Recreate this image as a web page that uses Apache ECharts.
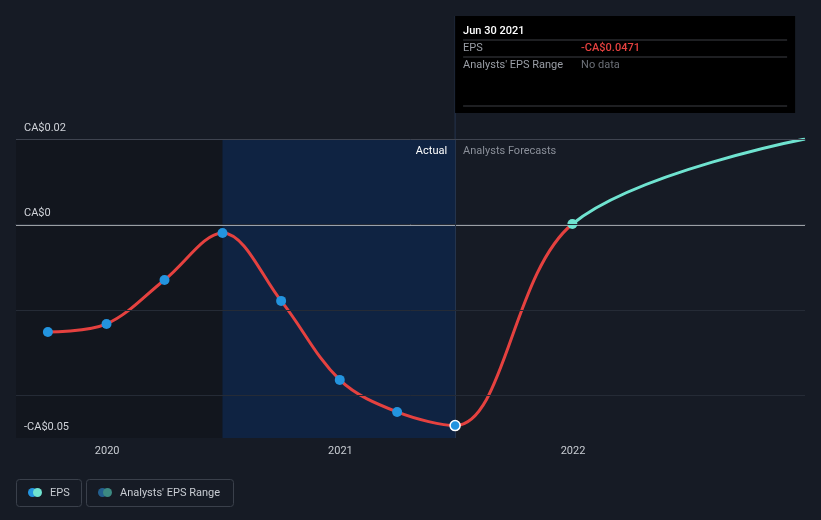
<!DOCTYPE html>
<html>
<head>
<meta charset="utf-8">
<script src="https://cdn.jsdelivr.net/npm/echarts@6/dist/echarts.min.js"></script>
<style>
html,body{margin:0;padding:0;background:#161b25;}
#c{width:821px;height:520px;}
#err{position:absolute;left:0;top:0;color:#ff0;font:10px monospace;white-space:pre;}
</style>
</head>
<body>
<div id="c"></div>
<div id="err"></div>
<script>
// ---- data ----
const actualDates = ['2019-09-30','2019-12-31','2020-03-31','2020-06-30','2020-09-30','2020-12-31','2021-03-31','2021-06-30'];
const actualEps = [-0.0252, -0.0233, -0.0130, -0.0020, -0.0179, -0.0364, -0.0439, -0.0471];
const forecastDates = ['2021-12-31','2022-12-31'];
const forecastEps = [0.0001, 0.0200];
const yLabelValues = [-0.05, 0, 0.02];
const yLabelTexts = ['-CA$0.05', 'CA$0', 'CA$0.02'];
const tooltipDate = 'Jun 30 2021';
const tooltipEps = '-CA$0.0471';
const xStart = '2019-08-11';
const xEnd = '2022-12-31';

const FONT = 'Roboto, "Noto Sans", sans-serif';
const RED = '#e5413f';
const TEAL = '#6fe3d0';
const BLUE = '#2394df';
const YEAR = 365 * 24 * 3600 * 1000;

function ts(s) { const p = s.split('-').map(Number); return new Date(p[0], p[1] - 1, p[2]).getTime(); }

const lineData = actualDates.map((d, i) => [ts(d), actualEps[i]])
  .concat(forecastDates.map((d, i) => [ts(d), forecastEps[i]]));
const actualPts = actualDates.map((d, i) => {
  const p = { value: [ts(d), actualEps[i]] };
  if (i === actualDates.length - 1) p.itemStyle = { borderColor: '#ffffff', borderWidth: 1.5 };
  return p;
});
const forecastPts = [[ts(forecastDates[0]), forecastEps[0]]];

const lastActual = ts(actualDates[actualDates.length - 1]);
const midActual = ts(actualDates[3]);
const chart = echarts.init(document.getElementById('c'), null, { renderer: 'canvas' });

const option = {
  backgroundColor: '#161b25',
  animation: false,
  textStyle: { fontFamily: FONT },
  grid: { left: 16, right: 16, top: 139, bottom: 82, containLabel: false },
  xAxis: {
    type: 'time',
    min: ts(xStart),
    max: ts(xEnd),
    minInterval: YEAR,
    maxInterval: YEAR * 1.01,
    axisLine: { show: true, lineStyle: { color: '#3a404b', width: 1 } },
    axisTick: { show: true, length: 4, lineStyle: { color: '#5a606b' } },
    axisLabel: {
      formatter: v => String(new Date(v).getFullYear()),
      color: '#c8ccd2', fontSize: 11, margin: 8, fontFamily: FONT,
      showMinLabel: false, showMaxLabel: false
    },
    splitLine: { show: false }
  },
  yAxis: {
    type: 'value',
    z: 10,
    min: -0.05, max: 0.02, interval: 0.01,
    axisLine: { show: false },
    axisTick: { show: false },
    axisLabel: {
      inside: true,
      margin: 8,
      color: '#d0d3d9', fontSize: 11, fontFamily: FONT,
      formatter: v => {
        for (let i = 0; i < yLabelValues.length; i++) {
          if (Math.abs(v - yLabelValues[i]) < 1e-9) return '{t|' + yLabelTexts[i] + '}';
        }
        return '';
      },
      rich: { t: { color: '#d0d3d9', fontSize: 11, fontFamily: FONT, padding: [0, 0, 22, 0] } }
    },
    splitLine: {
      show: true,
      lineStyle: {
        width: 1,
        color: ['rgba(0,0,0,0)', '#252b36', 'rgba(0,0,0,0)', '#252b36', 'rgba(0,0,0,0)', '#252b36', 'rgba(0,0,0,0)', '#3f4450']
      }
    }
  },
  series: [
    {
      type: 'line', data: [], z: 1, silent: true,
      markArea: {
        silent: true,
        data: [
          [{ xAxis: ts(xStart), itemStyle: { color: '#12161e' } }, { xAxis: midActual }],
          [{ xAxis: midActual, itemStyle: { color: '#0d1f38' } }, { xAxis: lastActual }]
        ]
      },
      markLine: {
        silent: true, symbol: 'none', label: { show: false },
        data: [
          { yAxis: 0, lineStyle: { color: '#c9ccd1', width: 1.5, type: 'solid' } },
          { xAxis: lastActual, lineStyle: { color: '#24344d', width: 1, type: 'solid' } }
        ]
      }
    },
    {
      name: 'EPS',
      type: 'line',
      data: lineData,
      smooth: 0.35,
      symbol: 'none',
      lineStyle: { width: 3, color: RED },
      z: 3
    },
    {
      type: 'line', data: [], z: 4, silent: true,
      markArea: {
        silent: true,
        data: [
          [{ xAxis: midActual, itemStyle: { color: 'rgba(30,60,130,0.15)' } }, { xAxis: lastActual }]
        ]
      }
    },
    {
      type: 'scatter', data: actualPts, symbolSize: 10, z: 5,
      itemStyle: { color: BLUE, opacity: 1 }
    },
    {
      type: 'scatter', data: forecastPts, symbolSize: 10, z: 5,
      itemStyle: { color: TEAL, opacity: 1 }
    }
  ]
};
try {
  chart.setOption(option);
  const xSplit = chart.convertToPixel({ xAxisIndex: 0 }, ts(forecastDates[0]));
  chart.setOption({
    series: [{}, {
      lineStyle: {
        color: new echarts.graphic.LinearGradient(0, 0, 821, 0, [
          { offset: 0, color: RED },
          { offset: xSplit / 821, color: RED },
          { offset: xSplit / 821, color: TEAL },
          { offset: 1, color: TEAL }
        ], true)
      }
    }]
  });
} catch (e) {
  document.getElementById('err').textContent = String(e && e.stack || e);
}

try {
const xLast = chart.convertToPixel({ xAxisIndex: 0 }, lastActual);
const tipW = 340;
const g = [];
g.push({ type: 'line', shape: { x1: xLast, y1: 16, x2: xLast, y2: 139 }, style: { stroke: '#24344d', lineWidth: 1 }, z: 10 });
g.push({ type: 'rect', shape: { x: xLast, y: 16, width: tipW, height: 97 }, style: { fill: '#000000' }, z: 20 });
g.push({ type: 'text', x: xLast + 8, y: 31, style: { text: tooltipDate, fill: '#ffffff', font: '500 11px ' + FONT, textVerticalAlign: 'middle' }, z: 21 });
[40, 57, 106].forEach(y => g.push({ type: 'line', shape: { x1: xLast + 8, y1: y, x2: xLast + tipW - 8, y2: y }, style: { stroke: '#3c3f45', lineWidth: 1 }, z: 21 }));
g.push({ type: 'text', x: xLast + 8, y: 48, style: { text: 'EPS', fill: '#9a9ea6', font: '11px ' + FONT, textVerticalAlign: 'middle' }, z: 21 });
g.push({ type: 'text', x: xLast + 126, y: 48, style: { text: tooltipEps, fill: RED, font: '500 11px ' + FONT, textVerticalAlign: 'middle' }, z: 21 });
g.push({ type: 'text', x: xLast + 8, y: 65, style: { text: "Analysts' EPS Range", fill: '#9a9ea6', font: '11px ' + FONT, textVerticalAlign: 'middle' }, z: 21 });
g.push({ type: 'text', x: xLast + 126, y: 65, style: { text: 'No data', fill: '#6b6f77', font: '11px ' + FONT, textVerticalAlign: 'middle' }, z: 21 });
g.push({ type: 'text', x: xLast - 8, y: 151, style: { text: 'Actual', fill: '#ffffff', font: '11px ' + FONT, textAlign: 'right', textVerticalAlign: 'middle' }, z: 21 });
g.push({ type: 'text', x: xLast + 8, y: 151, style: { text: 'Analysts Forecasts', fill: '#8a8f99', font: '11px ' + FONT, textAlign: 'left', textVerticalAlign: 'middle' }, z: 21 });
g.push({ type: 'rect', shape: { x: 16.5, y: 479.5, width: 65, height: 27, r: 3 }, style: { fill: 'none', stroke: '#3a404b', lineWidth: 1 }, z: 21 });
g.push({ type: 'circle', shape: { cx: 32.5, cy: 492.5, r: 4.5 }, style: { fill: BLUE }, z: 21 });
g.push({ type: 'circle', shape: { cx: 37.5, cy: 492.5, r: 4.5 }, style: { fill: TEAL }, z: 22 });
g.push({ type: 'text', x: 50, y: 493, style: { text: 'EPS', fill: '#c8ccd2', font: '11px ' + FONT, textVerticalAlign: 'middle' }, z: 21 });
g.push({ type: 'rect', shape: { x: 86.5, y: 479.5, width: 147, height: 27, r: 3 }, style: { fill: 'none', stroke: '#3a404b', lineWidth: 1 }, z: 21 });
g.push({ type: 'circle', shape: { cx: 102.5, cy: 492.5, r: 4.5 }, style: { fill: '#235f8e' }, z: 21 });
g.push({ type: 'circle', shape: { cx: 107.5, cy: 492.5, r: 4.5 }, style: { fill: '#3c8a82' }, z: 22 });
g.push({ type: 'text', x: 120, y: 493, style: { text: "Analysts' EPS Range", fill: '#c8ccd2', font: '11px ' + FONT, textVerticalAlign: 'middle' }, z: 21 });
chart.setOption({ graphic: { elements: g } });
} catch (e) {
  document.getElementById('err').textContent += '\n' + String(e && e.stack || e);
}
</script>
</body>
</html>
